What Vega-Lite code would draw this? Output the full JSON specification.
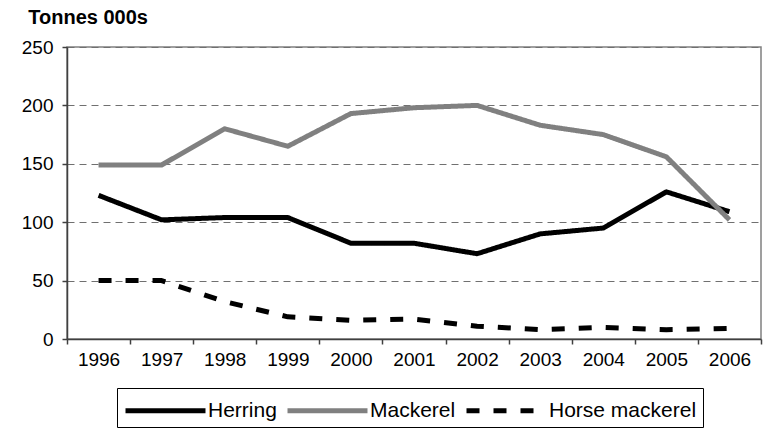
{
  "$schema": "https://vega.github.io/schema/vega-lite/v6.json",
  "width": 694,
  "height": 292,
  "autosize": {"type": "none"},
  "padding": {"left": 67, "top": 47, "right": 2, "bottom": 91},
  "background": "white",
  "title": {
    "text": "Tonnes 000s",
    "anchor": "start",
    "frame": "bounds",
    "font": "Liberation Sans",
    "fontSize": 20,
    "fontWeight": "bold",
    "color": "#000000",
    "offset": 10,
    "dx": 7
  },
  "config": {
    "view": {"stroke": "#808080", "strokeWidth": 1.5},
    "font": "Liberation Sans"
  },
  "data": {
    "values": [
      {"year": "1996", "series": "Herring", "value": 123},
      {"year": "1997", "series": "Herring", "value": 102},
      {"year": "1998", "series": "Herring", "value": 104},
      {"year": "1999", "series": "Herring", "value": 104},
      {"year": "2000", "series": "Herring", "value": 82},
      {"year": "2001", "series": "Herring", "value": 82},
      {"year": "2002", "series": "Herring", "value": 73},
      {"year": "2003", "series": "Herring", "value": 90},
      {"year": "2004", "series": "Herring", "value": 95},
      {"year": "2005", "series": "Herring", "value": 126},
      {"year": "2006", "series": "Herring", "value": 109},
      {"year": "1996", "series": "Mackerel", "value": 149},
      {"year": "1997", "series": "Mackerel", "value": 149},
      {"year": "1998", "series": "Mackerel", "value": 180},
      {"year": "1999", "series": "Mackerel", "value": 165},
      {"year": "2000", "series": "Mackerel", "value": 193},
      {"year": "2001", "series": "Mackerel", "value": 198},
      {"year": "2002", "series": "Mackerel", "value": 200},
      {"year": "2003", "series": "Mackerel", "value": 183},
      {"year": "2004", "series": "Mackerel", "value": 175},
      {"year": "2005", "series": "Mackerel", "value": 156},
      {"year": "2006", "series": "Mackerel", "value": 102},
      {"year": "1996", "series": "Horse mackerel", "value": 50},
      {"year": "1997", "series": "Horse mackerel", "value": 50},
      {"year": "1998", "series": "Horse mackerel", "value": 32},
      {"year": "1999", "series": "Horse mackerel", "value": 19},
      {"year": "2000", "series": "Horse mackerel", "value": 16},
      {"year": "2001", "series": "Horse mackerel", "value": 17},
      {"year": "2002", "series": "Horse mackerel", "value": 11},
      {"year": "2003", "series": "Horse mackerel", "value": 8},
      {"year": "2004", "series": "Horse mackerel", "value": 10},
      {"year": "2005", "series": "Horse mackerel", "value": 8},
      {"year": "2006", "series": "Horse mackerel", "value": 9}
    ]
  },
  "mark": {"type": "line", "strokeWidth": 5, "strokeCap": "butt", "strokeJoin": "round"},
  "encoding": {
    "x": {
      "field": "year",
      "type": "ordinal",
      "bandPosition": 0.5,
      "scale": {"type": "band", "paddingInner": 0, "paddingOuter": 0},
      "axis": {
        "title": null,
        "labelAngle": 0,
        "labelFont": "Liberation Sans",
        "labelFontSize": 19,
        "labelColor": "#000000",
        "labelPadding": 6,
        "tickBand": "extent",
        "tickSize": 5,
        "tickColor": "#404040",
        "tickWidth": 1.5,
        "domainColor": "#404040",
        "domainWidth": 1.5,
        "grid": false
      }
    },
    "y": {
      "field": "value",
      "type": "quantitative",
      "scale": {"domain": [0, 250], "nice": false},
      "axis": {
        "title": null,
        "values": [0, 50, 100, 150, 200, 250],
        "labelFont": "Liberation Sans",
        "labelFontSize": 19,
        "labelColor": "#000000",
        "labelPadding": 9,
        "tickSize": 5,
        "tickColor": "#404040",
        "tickWidth": 1.5,
        "domainColor": "#404040",
        "domainWidth": 1.5,
        "grid": true,
        "gridColor": "#707070",
        "gridWidth": 1,
        "gridDash": [7, 5]
      }
    },
    "color": {
      "field": "series",
      "type": "nominal",
      "scale": {
        "domain": ["Herring", "Mackerel", "Horse mackerel"],
        "range": ["#000000", "#808080", "#000000"]
      },
      "legend": {
        "title": null,
        "orient": "none",
        "legendX": 50,
        "legendY": 341,
        "direction": "horizontal",
        "strokeColor": "#000000",
        "padding": 6,
        "symbolType": "M-1,0H4.714",
        "symbolSize": 784,
        "symbolStrokeWidth": 5,
        "labelFont": "Liberation Sans",
        "labelFontSize": 21,
        "labelColor": "#000000",
        "labelOffset": 52,
        "columnPadding": 0
      }
    },
    "strokeDash": {
      "field": "series",
      "type": "nominal",
      "scale": {
        "domain": ["Herring", "Mackerel", "Horse mackerel"],
        "range": [[1, 0], [1, 0], [13, 14]]
      },
      "legend": {
        "title": null,
        "orient": "none",
        "legendX": 50,
        "legendY": 341,
        "direction": "horizontal",
        "strokeColor": "#000000",
        "padding": 6,
        "symbolType": "M-1,0H4.714",
        "symbolSize": 784,
        "symbolStrokeWidth": 5,
        "labelFont": "Liberation Sans",
        "labelFontSize": 21,
        "labelColor": "#000000",
        "labelOffset": 52,
        "columnPadding": 0
      }
    },
    "order": {"field": "year"}
  }
}
